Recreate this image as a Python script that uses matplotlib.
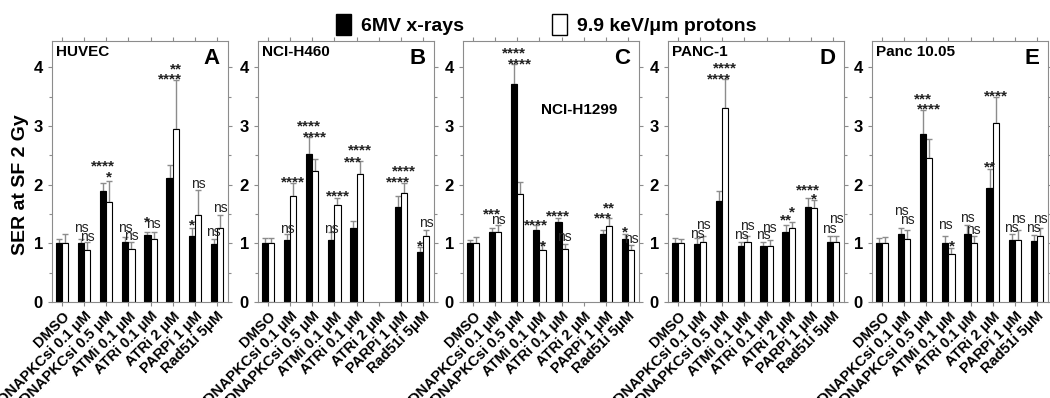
import numpy as np
import matplotlib
matplotlib.use("Agg")
import matplotlib.pyplot as plt
from matplotlib.patches import Patch

plt.rcParams['font.family'] = ['Liberation Sans', 'DejaVu Sans']
plt.rcParams['font.weight'] = 'bold'

nan = np.nan
treatments = ["DMSO", "DNAPKCsi 0.1 \u03bcM", "DNAPKCsi 0.5 \u03bcM", "ATMi 0.1 \u03bcM",
              "ATRi 0.1 \u03bcM", "ATRi 2 \u03bcM", "PARPi 1 \u03bcM", "Rad51i 5\u03bcM"]
cell_lines = ["HUVEC", "NCI-H460", "NCI-H1299", "PANC-1", "Panc 10.05"]
panel_letters = ["A", "B", "C", "D", "E"]

# SER values (mean) and upper error (SEM) - x-rays / protons
huvec_xray = [1.0, 1.01, 1.89, 1.03, 1.14, 2.11, 1.13, 0.99]
huvec_xray_err = [0.08, 0.06, 0.14, 0.08, 0.06, 0.22, 0.13, 0.09]
huvec_prot = [1.0, 0.89, 1.70, 0.91, 1.07, 2.95, 1.49, 1.26]
huvec_prot_err = [0.16, 0.13, 0.36, 0.12, 0.12, 0.83, 0.42, 0.23]
huvec_xray_sig = ["", "ns", "****", "ns", "*", "****", "*", "ns"]
huvec_xray_sig_y = [nan, 1.26, 2.41, 1.26, 1.45, 3.89, 1.40, 1.20]
huvec_prot_sig = ["", "ns", "*", "ns", "ns", "**", "ns", "ns"]
huvec_prot_sig_y = [nan, 1.11, 2.23, 1.12, 1.33, 4.07, 2.02, 1.60]

h460_xray = [1.0, 1.05, 2.52, 1.06, 1.27, nan, 1.62, 0.85]
h460_xray_err = [0.09, 0.11, 0.29, 0.13, 0.11, nan, 0.18, 0.09]
h460_prot = [1.0, 1.80, 2.24, 1.66, 2.19, nan, 1.86, 1.12]
h460_prot_err = [0.09, 0.23, 0.20, 0.12, 0.21, nan, 0.17, 0.10]
h460_xray_sig = ["", "ns", "****", "ns", "***", "", "****", "*"]
h460_xray_sig_y = [nan, 1.25, 3.09, 1.25, 2.48, nan, 2.13, 1.05]
h460_prot_sig = ["", "****", "****", "****", "****", "", "****", "ns"]
h460_prot_sig_y = [nan, 2.13, 2.91, 1.90, 2.68, nan, 2.32, 1.34]

h1299_xray = [1.0, 1.19, 3.72, 1.22, 1.36, nan, 1.16, 1.08]
h1299_xray_err = [0.06, 0.07, 0.33, 0.09, 0.07, nan, 0.07, 0.08]
h1299_prot = [1.0, 1.19, 1.84, 0.89, 0.91, nan, 1.29, 0.88]
h1299_prot_err = [0.11, 0.13, 0.20, 0.11, 0.08, nan, 0.14, 0.10]
h1299_xray_sig = ["", "***", "****", "****", "****", "", "***", "*"]
h1299_xray_sig_y = [nan, 1.59, 4.33, 1.40, 1.56, nan, 1.53, 1.29]
h1299_prot_sig = ["", "ns", "****", "*", "ns", "", "**", "ns"]
h1299_prot_sig_y = [nan, 1.40, 4.15, 1.05, 1.10, nan, 1.70, 1.08]

panc1_xray = [1.0, 0.99, 1.73, 0.95, 0.95, 1.19, 1.62, 1.02]
panc1_xray_err = [0.09, 0.10, 0.16, 0.08, 0.08, 0.13, 0.15, 0.10]
panc1_prot = [1.0, 1.02, 3.31, 1.02, 0.96, 1.27, 1.60, 1.02]
panc1_prot_err = [0.07, 0.10, 0.49, 0.10, 0.09, 0.09, 0.14, 0.10]
panc1_xray_sig = ["", "ns", "****", "ns", "ns", "**", "****", "ns"]
panc1_xray_sig_y = [nan, 1.16, 3.90, 1.14, 1.14, 1.49, 2.00, 1.25]
panc1_prot_sig = ["", "ns", "****", "ns", "ns", "*", "*", "ns"]
panc1_prot_sig_y = [nan, 1.31, 4.09, 1.29, 1.27, 1.63, 1.85, 1.42]

panc1005_xray = [1.0, 1.16, 2.87, 1.0, 1.16, 1.94, 1.06, 1.04]
panc1005_xray_err = [0.09, 0.11, 0.41, 0.12, 0.16, 0.33, 0.10, 0.10]
panc1005_prot = [1.0, 1.08, 2.45, 0.81, 1.0, 3.05, 1.06, 1.12]
panc1005_prot_err = [0.11, 0.15, 0.33, 0.11, 0.12, 0.44, 0.17, 0.14]
panc1005_xray_sig = ["", "ns", "***", "ns", "ns", "**", "ns", "ns"]
panc1005_xray_sig_y = [nan, 1.55, 3.56, 1.31, 1.44, 2.40, 1.26, 1.26]
panc1005_prot_sig = ["", "ns", "****", "*", "ns", "****", "ns", "ns"]
panc1005_prot_sig_y = [nan, 1.39, 3.39, 1.05, 1.22, 3.61, 1.42, 1.42]

panels = [
    (huvec_xray, huvec_xray_err, huvec_prot, huvec_prot_err,
     huvec_xray_sig, huvec_xray_sig_y, huvec_prot_sig, huvec_prot_sig_y),
    (h460_xray, h460_xray_err, h460_prot, h460_prot_err,
     h460_xray_sig, h460_xray_sig_y, h460_prot_sig, h460_prot_sig_y),
    (h1299_xray, h1299_xray_err, h1299_prot, h1299_prot_err,
     h1299_xray_sig, h1299_xray_sig_y, h1299_prot_sig, h1299_prot_sig_y),
    (panc1_xray, panc1_xray_err, panc1_prot, panc1_prot_err,
     panc1_xray_sig, panc1_xray_sig_y, panc1_prot_sig, panc1_prot_sig_y),
    (panc1005_xray, panc1005_xray_err, panc1005_prot, panc1005_prot_err,
     panc1005_xray_sig, panc1005_xray_sig_y, panc1005_prot_sig, panc1005_prot_sig_y),
]

W, H = 1050, 398
fig = plt.figure(figsize=(W / 100, H / 100), dpi=100)
lefts = [52, 258, 463, 668, 872]
ax_w, ax_b, ax_t = 176, 302, 41
gray = "#8c8c8c"
bw = 0.28
x = np.arange(len(treatments))

for k, (xr, xr_e, pr, pr_e, xs, xsy, ps, psy) in enumerate(panels):
    ax = fig.add_axes([lefts[k] / W, 1 - ax_b / H, ax_w / W, (ax_b - ax_t) / H])
    xb = x - bw / 2
    xw = x + bw / 2
    ax.bar(xb, xr, width=bw, color="black", edgecolor="black", lw=0.8, zorder=2)
    ax.bar(xw, pr, width=bw, color="white", edgecolor="black", lw=0.8, zorder=2)
    zero = np.zeros(len(x))
    ax.errorbar(xb, xr, yerr=[zero, xr_e], fmt="none", ecolor=gray, elinewidth=1,
                capsize=2, capthick=1, zorder=1)
    ax.errorbar(xw, pr, yerr=[zero, pr_e], fmt="none", ecolor=gray, elinewidth=1,
                capsize=2, capthick=1, zorder=1)
    for i in range(len(x)):
        for xx, lab, yy in ((xb[i], xs[i], xsy[i]), (xw[i], ps[i], psy[i])):
            if not lab:
                continue
            if lab == "ns":
                ax.text(xx, yy, lab, ha="center", va="center", fontsize=10,
                        fontweight="normal", color="#222222")
            else:
                ax.text(xx, yy - 0.1, lab, ha="center", va="center", fontsize=11,
                        fontweight="bold", color="#222222")
    ax.set_xlim(-0.45, 7.5)
    ax.set_ylim(0, 4.45)
    ax.set_yticks([0, 1, 2, 3, 4])
    ax.set_yticks([0.5, 1.5, 2.5, 3.5], minor=True)
    ax.set_xticks(x)
    ax.set_xticklabels(treatments, rotation=45, ha="right", rotation_mode="anchor",
                       fontsize=10.5, fontweight="bold")
    ax.tick_params(axis="y", labelsize=12, color=gray, length=3, width=0.8)
    ax.tick_params(axis="y", which="minor", color=gray, length=2, width=0.8)
    ax.tick_params(axis="x", color=gray, length=3, width=0.8, top=True, pad=2)
    ax.tick_params(axis="y", right=True, which="both")
    for lbl in ax.get_yticklabels():
        lbl.set_fontweight("bold")
    for sp in ax.spines.values():
        sp.set_color(gray)
        sp.set_linewidth(0.8)
    if k == 2:
        ax.text(4.8, 3.28, cell_lines[k], ha="center", va="center", fontsize=11,
                fontweight="bold")
    else:
        ax.text(0.02, 0.985, cell_lines[k], transform=ax.transAxes, ha="left",
                va="top", fontsize=11, fontweight="bold")
    ax.text(0.95, 0.975, panel_letters[k], transform=ax.transAxes, ha="right",
            va="top", fontsize=16, fontweight="bold")
    if k == 0:
        ax.set_ylabel("SER at SF 2 Gy", fontsize=14, fontweight="bold")
        ax.yaxis.set_label_coords(-0.13, 0.45)

handles = [Patch(facecolor="black", edgecolor="black"),
           Patch(facecolor="white", edgecolor="black")]
fig.legend(handles, ["6MV x-rays", "9.9 keV/\u03bcm protons"], loc="upper center",
           bbox_to_anchor=(0.52, 1.01), ncol=2, frameon=False,
           handlelength=0.8, handleheight=1.3, columnspacing=4.5, handletextpad=0.5,
           prop={"weight": "bold", "size": 14})

fig.savefig("out.png", dpi=100)
